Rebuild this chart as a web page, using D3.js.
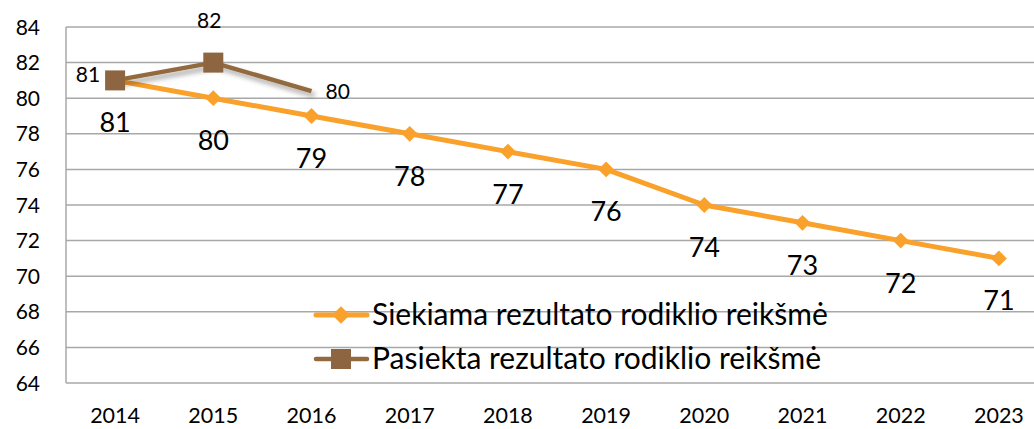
<!DOCTYPE html>
<html>
<head>
<meta charset="utf-8">
<script src="https://cdn.jsdelivr.net/npm/d3@7"></script>
<style>
  body { margin: 0; background: #fff; }
  svg { display: block; font-family: Lato, "Open Sans", sans-serif; }
</style>
</head>
<body>
<div id="chart"></div>
<script>
// Data
const years = ['2014', '2015', '2016', '2017', '2018', '2019', '2020', '2021', '2022', '2023'];
const targetValues = [81, 80, 79, 78, 77, 76, 74, 73, 72, 71];
const achievedYears = ['2014', '2015', '2016'];
const achievedValues = [81, 82, 80.4];
const achievedMarkers = [true, true, false];
const yTicks = [64, 66, 68, 70, 72, 74, 76, 78, 80, 82, 84];
const legendLabels = ['Siekiama rezultato rodiklio reikšmė', 'Pasiekta rezultato rodiklio reikšmė'];

const width = 1034;
const height = 429;
const plot = { left: 66, right: 1048, top: 27, bottom: 383 };

const orange = '#F9A12B';
const brown = '#93693F';
const gridColor = '#A8A8A8';

const svg = d3.select('#chart')
  .append('svg')
  .attr('width', width)
  .attr('height', height);

// soft shadow under the achieved line
const defs = svg.append('defs');
defs.append('filter')
  .attr('id', 'shadow')
  .attr('x', '-20%').attr('y', '-50%')
  .attr('width', '140%').attr('height', '200%')
  .append('feDropShadow')
  .attr('dx', 3).attr('dy', 4)
  .attr('stdDeviation', 2.5)
  .attr('flood-color', '#000')
  .attr('flood-opacity', 0.35);

const x = d3.scaleBand()
  .domain(years)
  .range([plot.left, plot.right]);
const cx = d => x(d) + x.bandwidth() / 2;

const y = d3.scaleLinear()
  .domain([64, 84])
  .range([plot.bottom, plot.top]);

// Gridlines
svg.append('g')
  .selectAll('line')
  .data(yTicks)
  .join('line')
  .attr('x1', plot.left)
  .attr('x2', width)
  .attr('y1', d => y(d))
  .attr('y2', d => y(d))
  .attr('stroke', gridColor)
  .attr('stroke-width', 1.5);

// Left axis line
svg.append('line')
  .attr('x1', plot.left).attr('x2', plot.left)
  .attr('y1', y(84)).attr('y2', y(64))
  .attr('stroke', gridColor)
  .attr('stroke-width', 1.5);

// Y tick labels
svg.append('g')
  .selectAll('text')
  .data(yTicks)
  .join('text')
  .attr('x', 40)
  .attr('y', d => y(d))
  .attr('dy', '0.36em')
  .attr('text-anchor', 'end')
  .attr('font-size', 21)
  .attr('fill', '#000')
  .text(d => d);

// X tick labels
svg.append('g')
  .selectAll('text')
  .data(years)
  .join('text')
  .attr('x', d => cx(d))
  .attr('y', 423)
  .attr('text-anchor', 'middle')
  .attr('font-size', 21.5)
  .attr('fill', '#000')
  .text(d => d);

const line = d3.line()
  .x(d => cx(d.year))
  .y(d => y(d.value));

const target = years.map((yr, i) => ({ year: yr, value: targetValues[i] }));
const achieved = achievedYears.map((yr, i) => ({ year: yr, value: achievedValues[i], marker: achievedMarkers[i] }));

const diamond = d3.symbol().type(d3.symbolDiamond2).size(160);

// Target series
svg.append('path')
  .datum(target)
  .attr('d', line)
  .attr('fill', 'none')
  .attr('stroke', orange)
  .attr('stroke-width', 5)
  .attr('stroke-linejoin', 'round');

svg.append('g')
  .selectAll('path')
  .data(target)
  .join('path')
  .attr('transform', d => `translate(${cx(d.year)},${y(d.value)})`)
  .attr('d', diamond)
  .attr('fill', orange);

svg.append('g')
  .selectAll('text')
  .data(target)
  .join('text')
  .attr('x', d => cx(d.year))
  .attr('y', d => y(d.value) + 52)
  .attr('text-anchor', 'middle')
  .attr('font-size', 27)
  .attr('fill', '#000')
  .text(d => Math.round(d.value));

// Achieved series
const achievedGroup = svg.append('g').attr('filter', 'url(#shadow)');
achievedGroup.append('path')
  .datum(achieved)
  .attr('d', line)
  .attr('fill', 'none')
  .attr('stroke', brown)
  .attr('stroke-width', 4.5)
  .attr('stroke-linejoin', 'round');

svg.append('g')
  .selectAll('rect')
  .data(achieved.filter(d => d.marker))
  .join('rect')
  .attr('x', d => cx(d.year) - 10)
  .attr('y', d => y(d.value) - 10)
  .attr('width', 20)
  .attr('height', 20)
  .attr('fill', '#8E6541');

// Achieved labels: left, above, right
const achievedLabelPos = [
  { dx: -15, dy: 2, anchor: 'end' },
  { dx: -4, dy: -35, anchor: 'middle' },
  { dx: 14, dy: 8, anchor: 'start' }
];
svg.append('g')
  .selectAll('text')
  .data(achieved)
  .join('text')
  .attr('x', (d, i) => cx(d.year) + achievedLabelPos[i].dx)
  .attr('y', (d, i) => y(d.value) + achievedLabelPos[i].dy)
  .attr('text-anchor', (d, i) => achievedLabelPos[i].anchor)
  .attr('font-size', 21)
  .attr('fill', '#000')
  .text(d => Math.round(d.value));

// Legend
const legend = svg.append('g');
const legendRows = [
  { label: legendLabels[0], color: orange, y: 315, shape: 'diamond' },
  { label: legendLabels[1], color: brown, y: 359, shape: 'square' }
];
legendRows.forEach(r => {
  legend.append('line')
    .attr('x1', 316).attr('x2', 367)
    .attr('y1', r.y).attr('y2', r.y)
    .attr('stroke', r.color)
    .attr('stroke-width', r.shape === 'diamond' ? 5 : 4.5)
    .attr('stroke-linecap', 'round');
  if (r.shape === 'diamond') {
    legend.append('path')
      .attr('transform', `translate(341,${r.y})`)
      .attr('d', d3.symbol().type(d3.symbolDiamond2).size(200))
      .attr('fill', r.color);
  } else {
    legend.append('rect')
      .attr('x', 331).attr('y', r.y - 10)
      .attr('width', 20).attr('height', 20)
      .attr('fill', '#8E6541');
  }
  legend.append('text')
    .attr('x', 372)
    .attr('y', r.y + 10)
    .attr('font-size', 30)
    .attr('fill', '#000')
    .text(r.label);
});
</script>
</body>
</html>
